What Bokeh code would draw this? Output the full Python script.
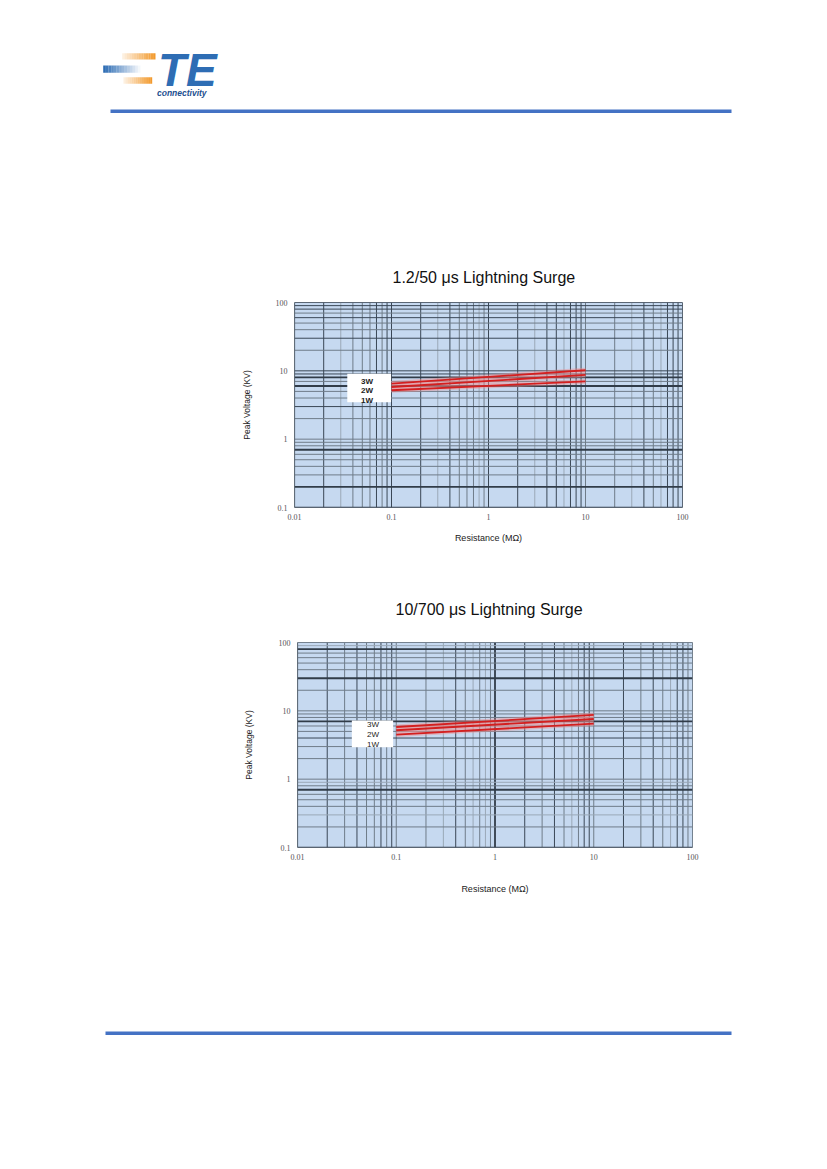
import numpy as np
from bokeh.plotting import figure
from bokeh.models import Span, Range1d, FixedTicker, Title, Label, BoxAnnotation, Spacer
from bokeh.layouts import column, row
from bokeh.embed import file_html
from bokeh.resources import INLINE
from bokeh.core.properties import value

# ---------------- data ----------------
series = ["3W", "2W", "1W"]
resistance_ends = [0.1, 10]          # MOhm

surge_1_2_50 = {"3W": [6.5, 10.2], "2W": [5.8, 8.7], "1W": [5.2, 7.0]}
surge_10_700 = {"3W": [5.8, 8.7], "2W": [5.2, 7.6], "1W": [4.5, 6.5]}

x_ticks = [0.01, 0.1, 1, 10, 100]
x_tick_labels = ["0.01", "0.1", "1", "10", "100"]
y_ticks = [0.1, 1, 10, 100]
y_tick_labels = ["0.1", "1", "10", "100"]

titles = ["1.2/50 \u03bcs  Lightning Surge", "10/700 \u03bcs  Lightning Surge"]
x_label = "Resistance (M\u03a9)"
y_label = "Peak Voltage (KV)"

# ---------------- styles ----------------
BG = "#c6d9f0"
RED = "#d41f1f"
GRID_STYLE = {
    "L": ("#9aa8b7", 1.0),
    "M": ("#6f7c89", 1.0),
    "D": ("#3a4756", 1.0),
    "T": ("#313c49", 1.8),
}
# shading of grid lines per decade (multipliers 2..9, then next decade)
top_v = ["DLMMMDMDD", "DLDMMMLMD", "DLDDLDDDM", "MLDMLDDDD"]
top_h = ["TMMMMTMMM", "MDMMTMTDD", "MDMMDMDDD"]
bot_v = ["DMDMMDMDM", "MLDMLMLMT", "DMDMLMDDM", "DMDMLDDMM"]
bot_h = ["MLMMMTMLM", "MMDMMTMMM", "MTMMMMTLM"]


def grid_lines(p, first_exp, shades, dim):
    for k, s in enumerate(shades):
        base = 10.0 ** (first_exp + k)
        vals = [m * base for m in range(2, 10)] + [10 * base]
        for v, c in zip(vals, s):
            col, w = GRID_STYLE[c]
            p.add_layout(Span(location=v, dimension=dim, line_color=col,
                              line_width=w, level="underlay"))


def make_chart(title, data, vshades, hshades, fl, fw, ft, fh, fb, fr,
               title_offset, title_standoff, xlab_standoff, ylab_standoff,
               box, lab_pos, bold):
    p = figure(x_axis_type="log", y_axis_type="log",
               x_range=Range1d(0.01, 100), y_range=Range1d(0.1, 100),
               frame_width=fw, frame_height=fh,
               min_border_left=fl, min_border_right=fr,
               min_border_top=ft, min_border_bottom=fb,
               toolbar_location=None, output_backend="svg")
    p.background_fill_color = BG
    p.border_fill_color = "white"
    p.outline_line_color = "#7d8894"
    p.outline_line_width = 1
    p.xgrid.grid_line_color = None
    p.ygrid.grid_line_color = None

    p.title = Title(text=title, align="left", offset=title_offset,
                    standoff=title_standoff, text_font="Liberation Sans",
                    text_font_size="16px", text_font_style="normal",
                    text_color="#111111")

    grid_lines(p, -2, vshades, "height")
    grid_lines(p, -1, hshades, "width")
    # frame edges (left / bottom darker)
    p.add_layout(Span(location=0.01, dimension="height", line_color="#46525f",
                      line_width=1.2, level="underlay"))
    p.add_layout(Span(location=0.1, dimension="width", line_color="#36414e",
                      line_width=1.5, level="underlay"))

    for name in series:
        p.line(resistance_ends, data[name], line_color="#f08c8c", line_width=5,
               line_alpha=0.45)
    for name in series:
        p.line(resistance_ends, data[name], line_color=RED, line_width=1.8)

    # legend box
    p.add_layout(BoxAnnotation(left=box[0], right=box[1], bottom=box[2], top=box[3],
                               fill_color="white", fill_alpha=1.0, line_color=None))
    for name, (lx, ly) in zip(series, lab_pos):
        p.add_layout(Label(x=lx, y=ly, text=name, text_align="center",
                           text_baseline="middle", text_font="Liberation Sans",
                           text_font_size="8px",
                           text_font_style="bold" if bold else "normal",
                           text_color="#222222"))

    p.xaxis.ticker = FixedTicker(ticks=x_ticks)
    p.yaxis.ticker = FixedTicker(ticks=y_ticks)
    p.xaxis.major_label_overrides = dict(zip(x_ticks, x_tick_labels))
    p.yaxis.major_label_overrides = dict(zip(y_ticks, y_tick_labels))
    for ax in (p.xaxis, p.yaxis):
        ax.axis_line_color = None
        ax.major_tick_line_color = None
        ax.minor_tick_line_color = None
        ax.major_label_text_font = "Liberation Serif"
        ax.major_label_text_font_size = "8px"
        ax.major_label_text_color = "#555555"
        ax.axis_label_text_font = "Liberation Sans"
        ax.axis_label_text_font_style = "normal"
        ax.axis_label_text_color = "#222222"
    p.xaxis.axis_label = x_label
    p.yaxis.axis_label = y_label
    p.xaxis.axis_label_text_font_size = "9px"
    p.yaxis.axis_label_text_font_size = "8.5px"
    p.xaxis.major_label_standoff = 0
    p.yaxis.major_label_standoff = 1
    p.xaxis.axis_label_standoff = xlab_standoff
    p.yaxis.axis_label_standoff = ylab_standoff
    return p


c1 = make_chart(titles[0], surge_1_2_50, top_v, top_h,
                fl=94, fw=388, ft=162, fh=205, fb=53, fr=30,
                title_offset=98, title_standoff=34, xlab_standoff=10, ylab_standoff=21,
                box=(0.035, 0.099, 3.47, 9.04),
                lab_pos=[(0.056, 6.97), (0.056, 5.14), (0.056, 3.63)], bold=True)
c2 = make_chart(titles[1], surge_10_700, bot_v, bot_h,
                fl=97, fw=395, ft=82, fh=205, fb=63, fr=30,
                title_offset=98, title_standoff=50, xlab_standoff=21, ylab_standoff=22,
                box=(0.0355, 0.093, 2.94, 7.21),
                lab_pos=[(0.0583, 6.25), (0.0583, 4.51), (0.0583, 3.22)], bold=False)


def page_fig(h, y0):
    f = figure(width=811, height=h, x_range=Range1d(0, 811), y_range=Range1d(y0 + h, y0),
               min_border=0, toolbar_location=None, output_backend="svg")
    f.axis.visible = False
    f.grid.grid_line_color = None
    f.outline_line_color = None
    f.background_fill_color = "white"
    return f


# header with logo and rule
header = page_fig(140, 0)
n = 14
def grad_bar(f, x0, x1, top, bot, color, a0, a1):
    xs = np.linspace(x0, x1, n + 1)
    al = np.linspace(a0, a1, n)
    f.quad(left=xs[:-1], right=xs[1:], top=[top] * n, bottom=[bot] * n,
           fill_color=color, fill_alpha=al, line_color=None)

grad_bar(header, 121.7, 155, 52.7, 59, "#f29a2e", 0.15, 1.0)
grad_bar(header, 102.7, 140, 65, 72.3, "#2e6db4", 1.0, 0.05)
grad_bar(header, 123, 151.7, 76.7, 83.3, "#f29a2e", 0.15, 1.0)
header.text(x=[157.5], y=[69.5], text=["TE"], text_font=value("Liberation Sans"),
            text_font_style="bold italic", text_font_size="46px", text_color="#2e6db4",
            text_baseline="alphabetic")
header.text(x=[156.5], y=[92.5], text=["connectivity"], text_font=value("Liberation Sans"),
            text_font_style="bold italic", text_font_size="8.5px", text_color="#1d4f8f",
            text_baseline="alphabetic")
header.quad(left=[110], right=[731], top=[109], bottom=[112.5], fill_color="#4472c4",
            line_color=None)

footer = page_fig(190, 910)
footer.quad(left=[105], right=[731], top=[1031], bottom=[1034.5], fill_color="#4472c4",
            line_color=None)

layout = column(header, row(Spacer(width=200, height=10), c1),
                row(Spacer(width=200, height=10), c2), footer)

open("out.html", "w").write(file_html(layout, INLINE))
